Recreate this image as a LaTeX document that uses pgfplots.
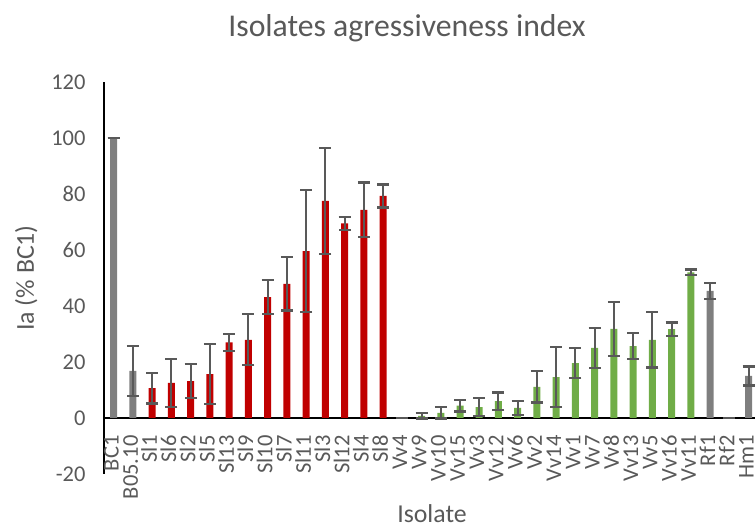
\documentclass[border=0pt]{standalone}
\usepackage{fontspec}
\setmainfont{Carlito}
\usepackage{pgfplots}
\usepackage{pgfplotstable}
\pgfplotsset{compat=1.18}
\definecolor{txt}{HTML}{595959}
\definecolor{gbar}{HTML}{7F7F7F}
\definecolor{rbar}{HTML}{C00000}
\definecolor{vbar}{HTML}{70AD47}
\definecolor{ebar}{HTML}{595959}

\pgfplotstableread{
x y e
0 100 0
1 16.8 9.0
31 45.4 2.8
32 0 0
33 15.0 3.4
}\graydata

\pgfplotstableread{
x y e
2 10.7 5.5
3 12.5 8.7
4 13.2 6.2
5 15.7 10.8
6 27.0 3.1
7 27.9 9.1
8 43.2 6.1
9 47.9 9.5
10 59.6 21.7
11 77.5 19.0
12 69.5 2.3
13 74.3 9.8
14 79.3 4.1
}\reddata

\pgfplotstableread{
x y e
15 0 0
16 0.8 1.0
17 1.8 2.0
18 4.4 2.1
19 3.9 3.2
20 6.0 3.1
21 3.6 2.4
22 11.1 5.6
23 14.6 10.7
24 19.6 5.3
25 25.0 7.2
26 31.8 9.7
27 25.7 4.6
28 27.9 9.9
29 31.7 2.4
30 52.0 1.0
}\greendata

\pgfplotsset{
  errstyle/.style={
    error bars/.cd, y dir=both, y explicit,
    error bar style={draw=ebar, line width=2pt},
    error mark=-,
    error mark options={draw=ebar, line width=2.2pt, mark size=6pt, rotate=90},
  },
}

\begin{document}
\begin{tikzpicture}
\useasboundingbox (0,0) rectangle (755pt,527pt);
\begin{axis}[
  at={(104pt,53pt)}, anchor=south west,
  scale only axis, width=651pt, height=392pt,
  xmin=-0.5, xmax=33.33, ymin=-20, ymax=120,
  axis x line*=middle, axis y line*=left,
  axis line style={black, line width=1.3pt},
  ytick={-20,0,...,120},
  xtick={0,...,33},
  xticklabels={BC1,B05.10,Sl1,Sl6,Sl2,Sl5,Sl13,Sl9,Sl10,Sl7,Sl11,Sl3,Sl12,Sl4,Sl8,Vv4,Vv9,Vv10,Vv15,Vv3,Vv12,Vv6,Vv2,Vv14,Vv1,Vv7,Vv8,Vv13,Vv5,Vv16,Vv11,Rf1,Rf2,Hm1},
  major tick length=0pt,
  tick style={draw=none},
  hide obscured x ticks=false, hide obscured y ticks=false,
  /pgf/number format/assume math mode=true,
  yticklabel style={font=\fontsize{22.5}{27}\selectfont, text=txt, anchor=east, xshift=-15pt},
  xticklabel style={font=\fontsize{22.5}{27}\selectfont, text=txt, xshift=2.5pt, yshift=-14pt, rotate=90, anchor=mid east},
  ybar, bar width=7pt,
  clip=false,
]
\addplot[fill=gbar, draw=none, bar shift=0pt, errstyle] table[x=x, y=y, y error=e] {\graydata};
\addplot[fill=rbar, draw=none, bar shift=0pt, errstyle] table[x=x, y=y, y error=e] {\reddata};
\addplot[fill=vbar, draw=none, bar shift=0pt, errstyle] table[x=x, y=y, y error=e] {\greendata};
\end{axis}
\node[anchor=base, text=txt, font=\fontsize{31.7}{38}\selectfont] at (407pt,490pt) {Isolates agressiveness index};
\node[anchor=base, text=txt, font=\fontsize{25.8}{31}\selectfont] at (432pt,4pt) {Isolate};
\node[anchor=base, rotate=90, text=txt, font=\fontsize{25.8}{31}\selectfont] at (34pt,249pt) {Ia (\% BC1)};
\end{tikzpicture}
\end{document}
